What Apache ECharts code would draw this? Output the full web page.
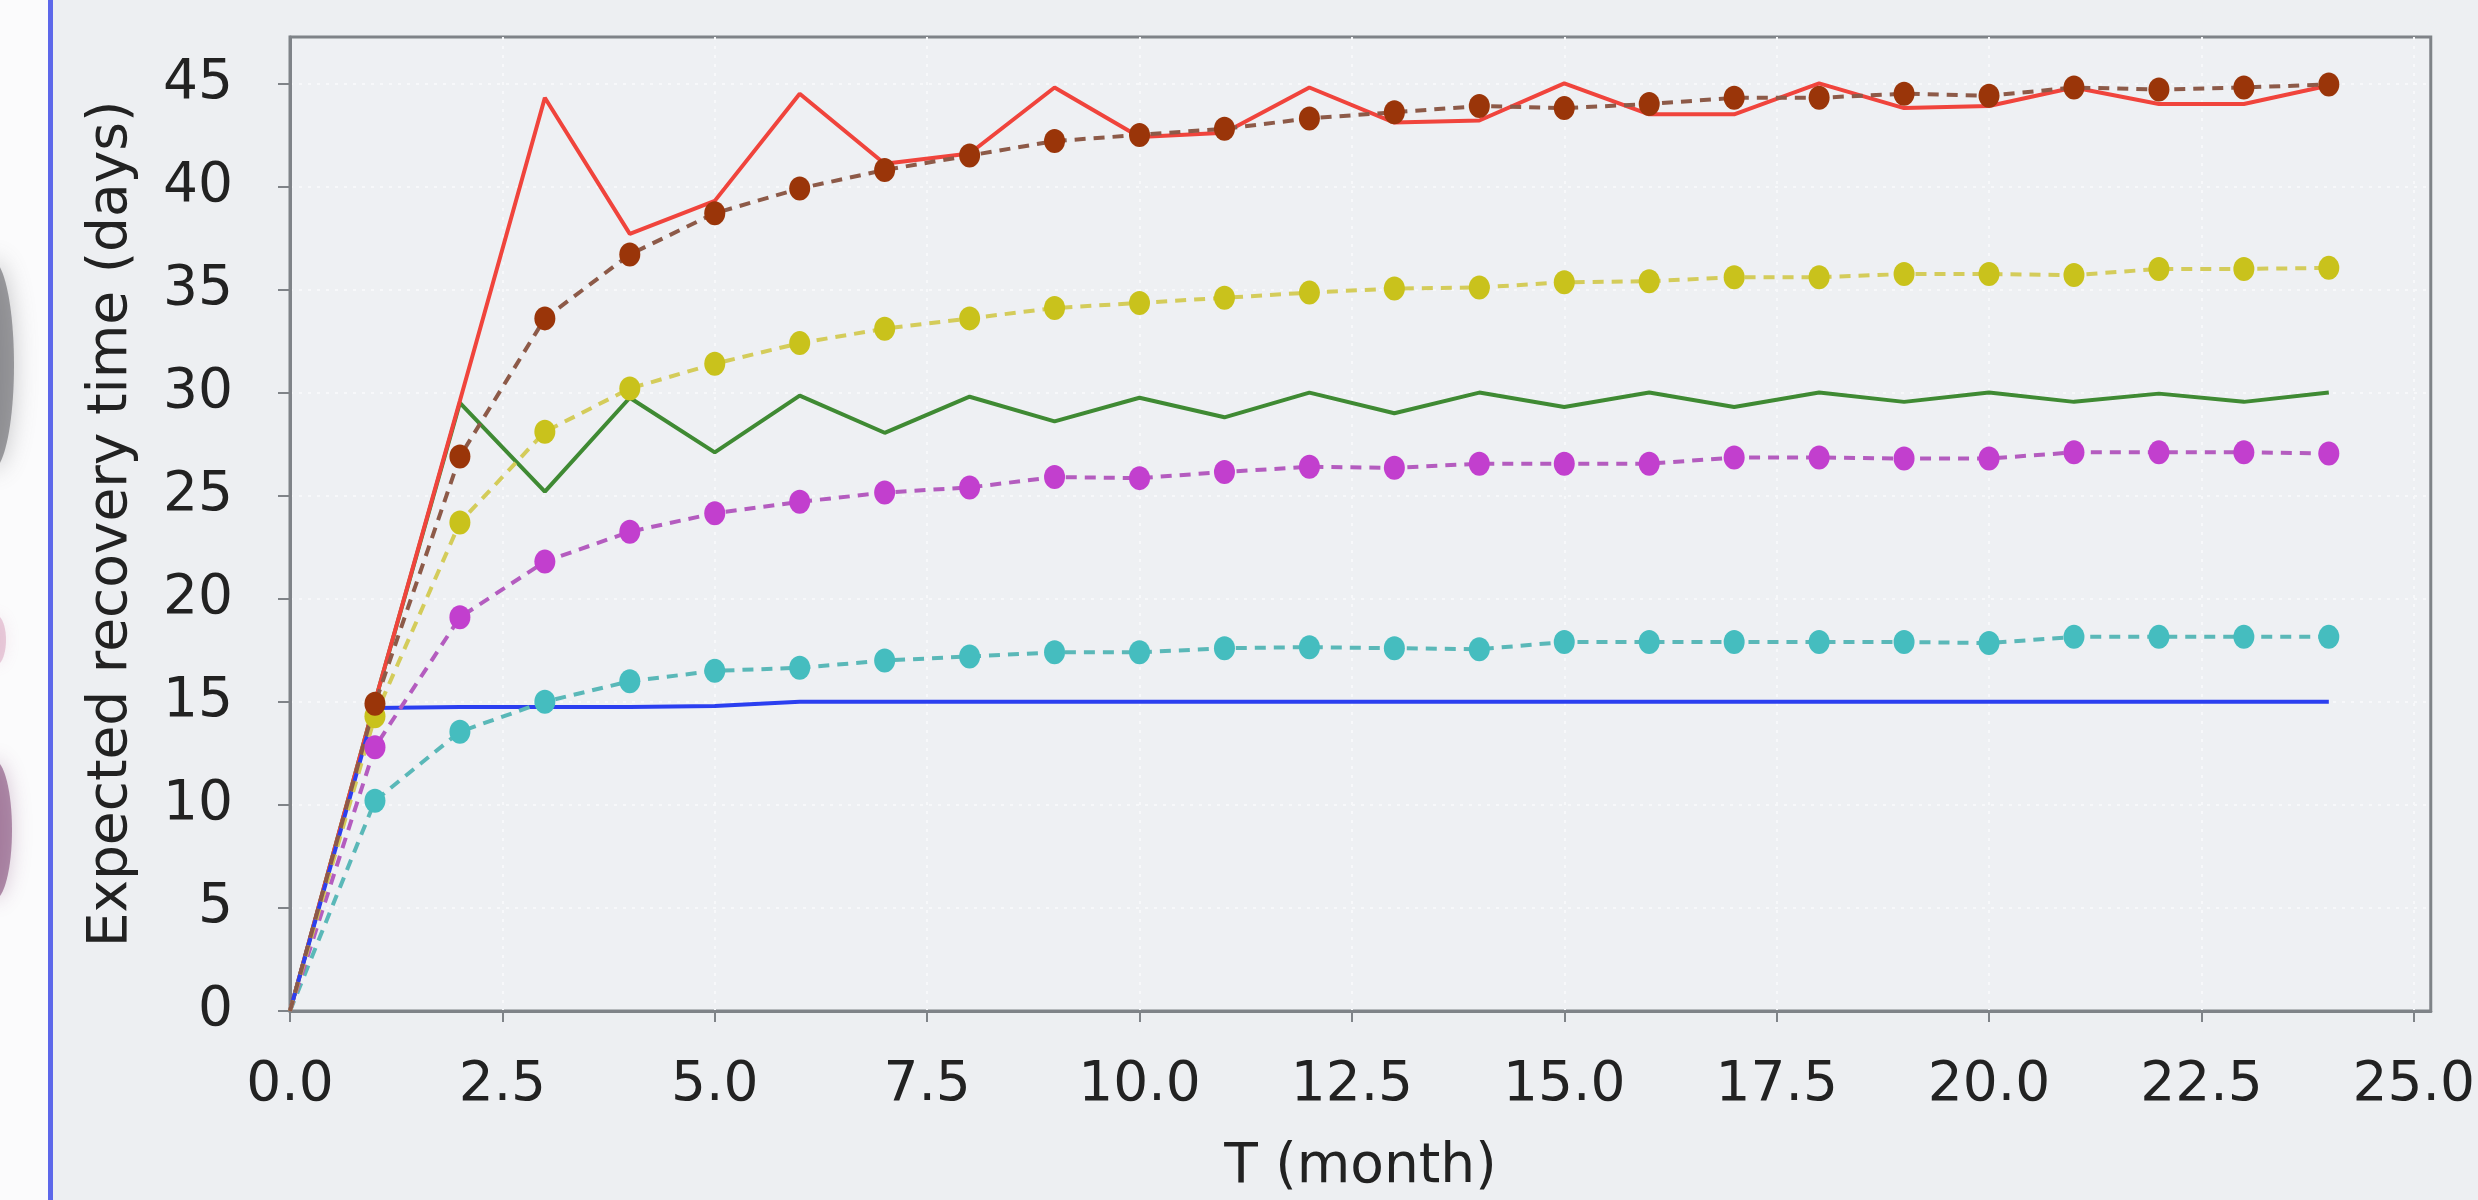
<!DOCTYPE html>
<html>
<head>
<meta charset="utf-8">
<script src="https://cdn.jsdelivr.net/npm/echarts@6/dist/echarts.min.js"></script>
<style>
html,body{margin:0;padding:0;background:#edeff2;}
#chart{width:2478px;height:1200px;}
</style>
</head>
<body>
<div id="chart"></div>
<script>
// ---- data ----
const months = [0,1,2,3,4,5,6,7,8,9,10,11,12,13,14,15,16,17,18,19,20,21,22,23,24];
const redSolid   = [0,15.0,29.6,44.3,37.7,39.3,44.5,41.1,41.6,44.8,42.4,42.6,44.8,43.1,43.2,45.0,43.5,43.5,45.0,43.8,43.9,44.8,44.0,44.0,44.9];
const brownDots  = [0,14.9,26.9,33.6,36.7,38.7,39.9,40.8,41.5,42.2,42.5,42.8,43.3,43.6,43.9,43.8,44.0,44.3,44.3,44.5,44.4,44.8,44.7,44.8,44.95];
const yellowDots = [0,14.3,23.7,28.1,30.2,31.4,32.4,33.1,33.6,34.1,34.35,34.6,34.85,35.05,35.1,35.35,35.4,35.6,35.6,35.75,35.75,35.7,36.0,36.0,36.05];
const greenSolid = [0,15.0,29.5,25.2,29.75,27.1,29.85,28.05,29.8,28.6,29.75,28.8,30.0,29.0,30.0,29.3,30.0,29.3,30.0,29.55,30.0,29.55,29.95,29.55,30.0];
const magentaDots= [0,12.8,19.1,21.8,23.25,24.15,24.7,25.15,25.4,25.9,25.85,26.15,26.4,26.35,26.55,26.55,26.55,26.85,26.85,26.8,26.8,27.1,27.1,27.1,27.05];
const cyanDots   = [0,10.2,13.55,15.0,16.0,16.5,16.65,17.0,17.2,17.4,17.4,17.6,17.65,17.6,17.55,17.9,17.9,17.9,17.9,17.9,17.85,18.15,18.15,18.15,18.15];
const blueSolid  = [0,14.7,14.75,14.75,14.75,14.8,15.0,15.0,15.0,15.0,15.0,15.0,15.0,15.0,15.0,15.0,15.0,15.0,15.0,15.0,15.0,15.0,15.0,15.0,15.0];
const xTicks = [0,2.5,5,7.5,10,12.5,15,17.5,20,22.5,25];
const yTicks = [0,5,10,15,20,25,30,35,40,45];
const xName = 'T (month)';
const yName = 'Expected recovery time (days)';

const FONT = 'DejaVu Sans';
const TXT = '#222';
const AX = '#7f8388';

function pairs(ys, hideFirstSymbol) {
  return months.map((m, i) => (hideFirstSymbol && i === 0)
    ? { value: [m, ys[i]], symbol: 'none' }
    : [m, ys[i]]);
}
function solid(name, ys, color) {
  return { name, type: 'line', data: pairs(ys, false), showSymbol: false, symbol: 'none',
    lineStyle: { color, width: 4 }, z: 3, animation: false };
}
function dotted(name, ys, color, lineColor) {
  return { name, type: 'line', data: pairs(ys, true), symbol: 'circle', symbolSize: [21, 24], showSymbol: true,
    itemStyle: { color }, lineStyle: { color: lineColor, width: 4, type: [11, 8] }, z: 4, animation: false };
}

const chart = echarts.init(document.getElementById('chart'));
chart.setOption({
  backgroundColor: '#edeff2',
  animation: false,
  graphic: [
    { type: 'rect', left: 0, top: 0, shape: { width: 48, height: 1200 }, style: { fill: '#fbfbfc' }, z: -2 },
    { type: 'ellipse', shape: { cx: -8, cy: 365, rx: 22, ry: 105 }, style: { fill: 'rgba(90,90,95,0.55)', shadowBlur: 25, shadowColor: 'rgba(90,90,95,0.6)' }, z: -1 },
    { type: 'ellipse', shape: { cx: -6, cy: 830, rx: 18, ry: 70 }, style: { fill: 'rgba(120,60,110,0.55)', shadowBlur: 20, shadowColor: 'rgba(120,60,110,0.5)' }, z: -1 },
    { type: 'ellipse', shape: { cx: -4, cy: 640, rx: 10, ry: 25 }, style: { fill: 'rgba(200,120,160,0.35)', shadowBlur: 15, shadowColor: 'rgba(200,120,160,0.4)' }, z: -1 },
    { type: 'rect', left: 48, top: 0, shape: { width: 5, height: 1200 }, style: { fill: '#5d68ea' }, z: 0 }
  ],
  grid: { left: 290, right: 23, top: 37, bottom: 188, show: true, borderColor: AX, borderWidth: 3, backgroundColor: '#eef0f3' },
  xAxis: {
    type: 'value', min: 0, max: 25.2, interval: 2.5, offset: 19,
    name: xName, nameLocation: 'middle', nameGap: 110,
    nameTextStyle: { fontFamily: FONT, fontSize: 55, color: TXT },
    axisLine: { show: true, lineStyle: { color: AX, width: 3 } },
    axisTick: { show: true, length: 11, lineStyle: { color: AX, width: 2 }, customValues: xTicks },
    axisLabel: { margin: 28, fontFamily: FONT, fontSize: 55, color: TXT, customValues: xTicks,
      formatter: (v) => v.toFixed(1) },
    splitLine: { show: true, lineStyle: { color: '#f7f8fa', width: 2, type: [3, 6] } }
  },
  yAxis: {
    type: 'value', min: 0, max: 47.25, interval: 5, offset: 21,
    name: yName, nameLocation: 'middle', nameRotate: 90, nameGap: 130,
    nameTextStyle: { fontFamily: FONT, fontSize: 55, color: TXT },
    axisLine: { show: true, lineStyle: { color: AX, width: 3 } },
    axisTick: { show: true, length: 12, lineStyle: { color: AX, width: 2 }, customValues: yTicks },
    axisLabel: { margin: 36, fontFamily: FONT, fontSize: 55, color: TXT, customValues: yTicks },
    splitLine: { show: true, lineStyle: { color: '#f7f8fa', width: 2, type: [3, 6] } }
  },
  series: [
    solid('green', greenSolid, '#3f8a33'),
    solid('red', redSolid, '#f0443c'),
    dotted('cyan', cyanDots, '#45bdbf', '#5ab8b8'),
    dotted('magenta', magentaDots, '#c23fce', '#b45cbf'),
    dotted('yellow', yellowDots, '#c9c21c', '#d4cc5a'),
    dotted('brown', brownDots, '#9a3509', '#8d5a48'),
    solid('blue', blueSolid, '#2b3ff0')
  ]
});
</script>
</body>
</html>
